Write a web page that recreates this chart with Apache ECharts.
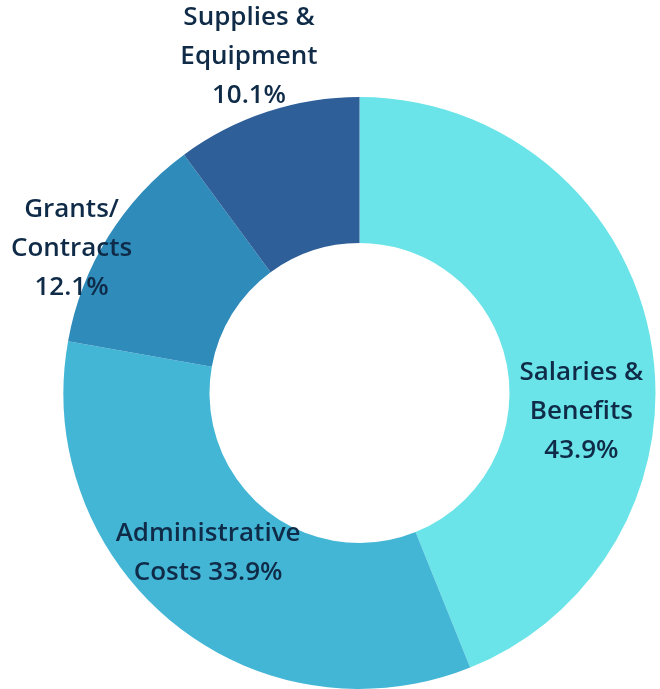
<!DOCTYPE html>
<html>
<head>
<meta charset="utf-8">
<script src="https://cdn.jsdelivr.net/npm/echarts@6/dist/echarts.min.js"></script>
<style>
    html, body { margin: 0; padding: 0; background: #fff; }
    #chart { width: 660px; height: 689px; }
</style>
</head>
<body>
<div id="chart"></div>
<script>
// 支出构成 donut
const categories = ['Salaries & Benefits', 'Administrative Costs', 'Grants/Contracts', 'Supplies & Equipment'];
const values = [43.9, 33.9, 12.1, 10.1];
const labelLines = [
    ['Salaries &', 'Benefits'],
    ['Administrative', 'Costs'],
    ['Grants/', 'Contracts'],
    ['Supplies &', 'Equipment']
];
const colors = ['#6ae4e8', '#43b6d6', '#2e8bba', '#2f5f98'];

// label nudges from the slice middle (px)
const labelShift = [
    [0, 62],
    [-9, -15],
    [-96, -25],
    [-40, -122]
];

const myChart = echarts.init(document.getElementById('chart'));

const seriesData = categories.map((name, i) => ({
    name: name,
    value: values[i],
    itemStyle: { color: colors[i] }
}));

myChart.setOption({
    animation: false,
    series: [
        {
            type: 'pie',
            center: [359.5, 393],
            radius: [150, 296],
            startAngle: 90,
            clockwise: true,
            avoidLabelOverlap: false,
            itemStyle: {
                borderColor: '#fff',
                borderWidth: 0
            },
            label: {
                show: true,
                position: 'inside',
                color: '#0f2b48',
                fontFamily: 'Open Sans',
                fontWeight: 600,
                fontSize: 26,
                lineHeight: 39,
                align: 'center',
                formatter: (p) => {
                    const lines = labelLines[p.dataIndex].slice();
                    const pct = p.value.toFixed(1) + '%';
                    if (p.dataIndex === 1) {
                        lines[1] = lines[1] + ' ' + pct;
                    } else {
                        lines.push(pct);
                    }
                    return lines.join('\n');
                }
            },
            labelLine: { show: false },
            labelLayout: (params) => ({
                dx: labelShift[params.dataIndex][0],
                dy: labelShift[params.dataIndex][1]
            }),
            data: seriesData
        }
    ]
});
</script>
</body>
</html>
